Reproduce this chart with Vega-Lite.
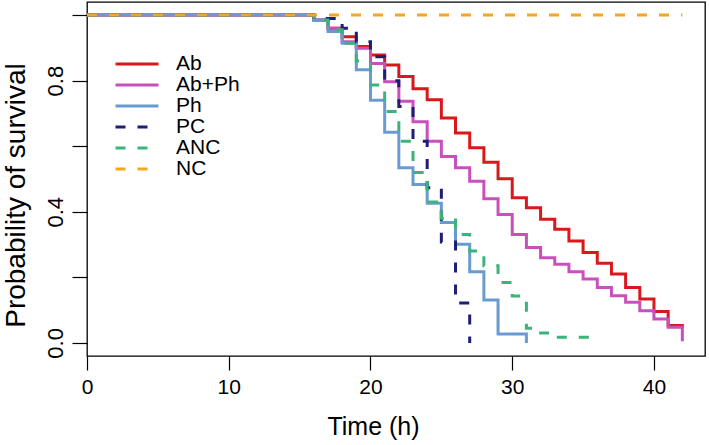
{
  "$schema": "https://vega.github.io/schema/vega-lite/v6.json",
  "width": 618,
  "height": 354,
  "autosize": {"type": "none"},
  "padding": {"left": 87, "top": 2, "right": 4, "bottom": 89},
  "background": "white",
  "config": {
    "font": "Liberation Sans",
    "view": {"stroke": "black", "strokeWidth": 1.3},
    "legend": {
      "orient": "none", "legendX": 27, "legendY": 53, "title": null,
      "symbolType": "stroke", "symbolSize": 1849, "symbolStrokeWidth": 3,
      "labelFontSize": 21, "labelColor": "black", "labelOffset": 16,
      "clipHeight": 18, "rowPadding": 0, "padding": 0
    }
  },
  "data": {"values": [
    {"group": "Ab", "t": 0, "p": 1.0},
    {"group": "Ab", "t": 16, "p": 0.985},
    {"group": "Ab", "t": 17, "p": 0.96},
    {"group": "Ab", "t": 18, "p": 0.934},
    {"group": "Ab", "t": 19, "p": 0.904},
    {"group": "Ab", "t": 20, "p": 0.878},
    {"group": "Ab", "t": 21, "p": 0.848},
    {"group": "Ab", "t": 22, "p": 0.813},
    {"group": "Ab", "t": 23, "p": 0.775},
    {"group": "Ab", "t": 24, "p": 0.742},
    {"group": "Ab", "t": 25, "p": 0.686},
    {"group": "Ab", "t": 26, "p": 0.640},
    {"group": "Ab", "t": 27, "p": 0.595},
    {"group": "Ab", "t": 28, "p": 0.551},
    {"group": "Ab", "t": 29, "p": 0.501},
    {"group": "Ab", "t": 30, "p": 0.443},
    {"group": "Ab", "t": 31, "p": 0.412},
    {"group": "Ab", "t": 32, "p": 0.377},
    {"group": "Ab", "t": 33, "p": 0.347},
    {"group": "Ab", "t": 34, "p": 0.311},
    {"group": "Ab", "t": 35, "p": 0.276},
    {"group": "Ab", "t": 36, "p": 0.243},
    {"group": "Ab", "t": 37, "p": 0.210},
    {"group": "Ab", "t": 38, "p": 0.169},
    {"group": "Ab", "t": 39, "p": 0.134},
    {"group": "Ab", "t": 40, "p": 0.096},
    {"group": "Ab", "t": 41, "p": 0.053},
    {"group": "Ab", "t": 42, "p": 0.045},
    {"group": "Ab+Ph", "t": 0, "p": 1.0},
    {"group": "Ab+Ph", "t": 16, "p": 0.985},
    {"group": "Ab+Ph", "t": 17, "p": 0.96},
    {"group": "Ab+Ph", "t": 18, "p": 0.919},
    {"group": "Ab+Ph", "t": 19, "p": 0.899},
    {"group": "Ab+Ph", "t": 20, "p": 0.852},
    {"group": "Ab+Ph", "t": 21, "p": 0.797},
    {"group": "Ab+Ph", "t": 22, "p": 0.737},
    {"group": "Ab+Ph", "t": 23, "p": 0.675},
    {"group": "Ab+Ph", "t": 24, "p": 0.615},
    {"group": "Ab+Ph", "t": 25, "p": 0.569},
    {"group": "Ab+Ph", "t": 26, "p": 0.534},
    {"group": "Ab+Ph", "t": 27, "p": 0.493},
    {"group": "Ab+Ph", "t": 28, "p": 0.440},
    {"group": "Ab+Ph", "t": 29, "p": 0.392},
    {"group": "Ab+Ph", "t": 30, "p": 0.331},
    {"group": "Ab+Ph", "t": 31, "p": 0.291},
    {"group": "Ab+Ph", "t": 32, "p": 0.260},
    {"group": "Ab+Ph", "t": 33, "p": 0.240},
    {"group": "Ab+Ph", "t": 34, "p": 0.217},
    {"group": "Ab+Ph", "t": 35, "p": 0.195},
    {"group": "Ab+Ph", "t": 36, "p": 0.169},
    {"group": "Ab+Ph", "t": 37, "p": 0.144},
    {"group": "Ab+Ph", "t": 38, "p": 0.124},
    {"group": "Ab+Ph", "t": 39, "p": 0.098},
    {"group": "Ab+Ph", "t": 40, "p": 0.073},
    {"group": "Ab+Ph", "t": 41, "p": 0.048},
    {"group": "Ab+Ph", "t": 42, "p": 0.005},
    {"group": "Ph", "t": 0, "p": 1.0},
    {"group": "Ph", "t": 16, "p": 0.985},
    {"group": "Ph", "t": 17, "p": 0.95},
    {"group": "Ph", "t": 18, "p": 0.914},
    {"group": "Ph", "t": 19, "p": 0.833},
    {"group": "Ph", "t": 20, "p": 0.74},
    {"group": "Ph", "t": 21, "p": 0.643},
    {"group": "Ph", "t": 22, "p": 0.534},
    {"group": "Ph", "t": 23, "p": 0.483},
    {"group": "Ph", "t": 24, "p": 0.426},
    {"group": "Ph", "t": 25, "p": 0.367},
    {"group": "Ph", "t": 26, "p": 0.301},
    {"group": "Ph", "t": 27, "p": 0.217},
    {"group": "Ph", "t": 28, "p": 0.131},
    {"group": "Ph", "t": 29, "p": 0.027},
    {"group": "Ph", "t": 31, "p": 0.0},
    {"group": "PC", "t": 0, "p": 1.0},
    {"group": "PC", "t": 16, "p": 0.99},
    {"group": "PC", "t": 18, "p": 0.96},
    {"group": "PC", "t": 19, "p": 0.919},
    {"group": "PC", "t": 20, "p": 0.873},
    {"group": "PC", "t": 21, "p": 0.80},
    {"group": "PC", "t": 22, "p": 0.721},
    {"group": "PC", "t": 23, "p": 0.615},
    {"group": "PC", "t": 24, "p": 0.473},
    {"group": "PC", "t": 25, "p": 0.308},
    {"group": "PC", "t": 26, "p": 0.122},
    {"group": "PC", "t": 27, "p": 0.0},
    {"group": "ANC", "t": 0, "p": 1.0},
    {"group": "ANC", "t": 16, "p": 0.985},
    {"group": "ANC", "t": 17, "p": 0.955},
    {"group": "ANC", "t": 18, "p": 0.914},
    {"group": "ANC", "t": 19, "p": 0.86},
    {"group": "ANC", "t": 20, "p": 0.787},
    {"group": "ANC", "t": 21, "p": 0.706},
    {"group": "ANC", "t": 22, "p": 0.615},
    {"group": "ANC", "t": 23, "p": 0.52},
    {"group": "ANC", "t": 24, "p": 0.43},
    {"group": "ANC", "t": 25, "p": 0.38},
    {"group": "ANC", "t": 26, "p": 0.331},
    {"group": "ANC", "t": 27, "p": 0.28},
    {"group": "ANC", "t": 28, "p": 0.235},
    {"group": "ANC", "t": 29, "p": 0.184},
    {"group": "ANC", "t": 30, "p": 0.143},
    {"group": "ANC", "t": 31, "p": 0.045},
    {"group": "ANC", "t": 32, "p": 0.03},
    {"group": "ANC", "t": 33, "p": 0.017},
    {"group": "ANC", "t": 36, "p": 0.017},
    {"group": "NC", "t": 0, "p": 1.0},
    {"group": "NC", "t": 42, "p": 1.0}
  ]},
  "mark": {"type": "line", "interpolate": "step-after", "strokeWidth": 3, "clip": true},
  "encoding": {
    "x": {
      "field": "t", "type": "quantitative",
      "scale": {"domain": [0, 43.6], "nice": false, "zero": false},
      "axis": {
        "values": [0, 10, 20, 30, 40], "title": "Time (h)", "grid": false, "domain": false,
        "tickSize": 14, "tickColor": "black", "tickWidth": 1.2,
        "labelFontSize": 21, "labelColor": "black", "labelPadding": 6, "labelFlush": false,
        "titleFontSize": 25, "titleFontWeight": "normal", "titleColor": "black",
        "titleX": 286, "titleY": 78, "titleBaseline": "alphabetic", "titleAlign": "center", "titleAnchor": null
      }
    },
    "y": {
      "field": "p", "type": "quantitative",
      "scale": {"domain": [-0.04, 1.04], "nice": false, "zero": false},
      "axis": {
        "values": [0, 0.2, 0.4, 0.6, 0.8, 1.0], "title": "Probability of survival", "grid": false, "domain": false,
        "tickSize": 15, "tickColor": "black", "tickWidth": 1.2,
        "labelAngle": 270, "labelAlign": "center", "labelBaseline": "alphabetic", "labelPadding": 10,
        "labelFontSize": 22, "labelColor": "black", "labelFlush": false, "labelOverlap": false,
        "labelExpr": "(abs(datum.value) < 0.001 || abs(datum.value - 0.4) < 0.001 || abs(datum.value - 0.8) < 0.001) ? format(datum.value, '.1f') : ''",
        "titleFontSize": 28, "titleFontWeight": "normal", "titleColor": "black",
        "titleX": -63, "titleY": 193, "titleAngle": 270, "titleBaseline": "alphabetic", "titleAlign": "center", "titleAnchor": null
      }
    },
    "color": {
      "field": "group", "type": "nominal",
      "scale": {"domain": ["Ab", "Ab+Ph", "Ph", "PC", "ANC", "NC"], "range": ["#d7191c", "#c94fbd", "#6a9bd0", "#1e1e73", "#3cb37a", "#f6a623"]},
      "legend": {"title": null}
    },
    "strokeDash": {
      "field": "group", "type": "nominal",
      "scale": {"domain": ["Ab", "Ab+Ph", "Ph", "PC", "ANC", "NC"], "range": [[1, 0], [1, 0], [1, 0], [10, 12], [10, 12], [10, 12]]},
      "legend": {"title": null}
    }
  }
}
